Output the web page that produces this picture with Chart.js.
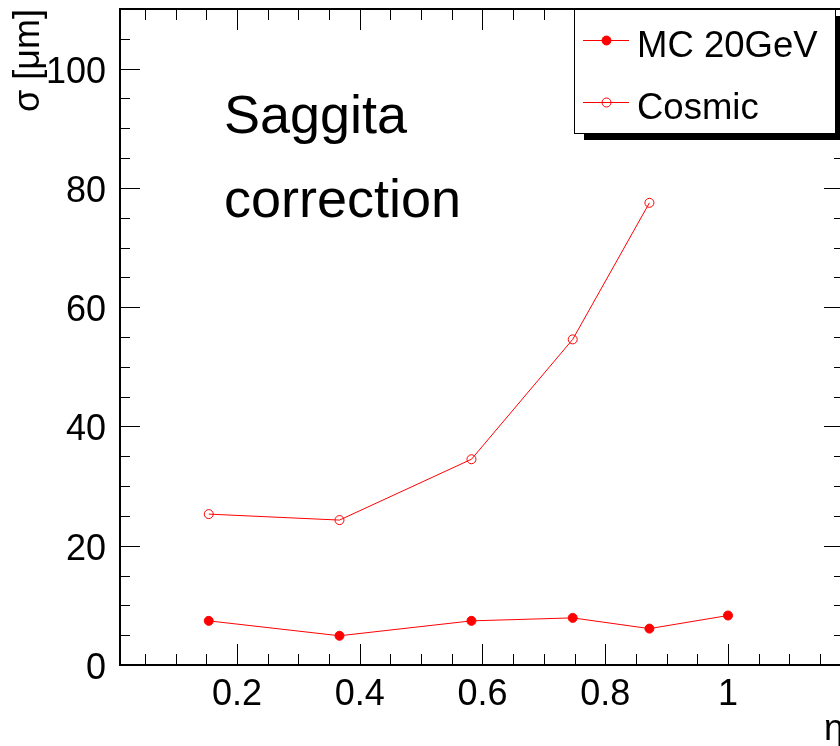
<!DOCTYPE html>
<html><head><meta charset="utf-8">
<script src="https://cdn.jsdelivr.net/npm/chart.js@4/dist/chart.umd.min.js"></script>
<style>html,body{margin:0;padding:0;background:#fff;overflow:hidden;width:840px;height:746px}canvas{display:block}</style>
</head><body>
<canvas id="c" width="860" height="746" style="width:860px;height:746px"></canvas>
<script>
// ---- data ----
const etaValues = [0.154, 0.367, 0.582, 0.747, 0.872, 1.0];
const mcValues = [7.4, 4.9, 7.4, 7.9, 6.1, 8.3];
const cosmicValues = [25.3, 24.3, 34.5, 54.6, 77.5];
const seriesLabels = ['MC 20GeV', 'Cosmic'];
const xTickLabels = ['0.2', '0.4', '0.6', '0.8', '1'];
const yTickLabels = ['0', '20', '40', '60', '80', '100'];
const xTitle = 'η';
const yTitle = 'σ [μm]';
const noteLines = ['Saggita', 'correction'];

const FONT = "'Liberation Sans', Arial, Helvetica, sans-serif";
const RED = '#ff0000';
const X_MIN = 0.0094, X_MAX = 1.189, Y_MIN = 0, Y_MAX = 110;
const X_MINOR = 0.05, Y_MINOR = 5;

const xMajor = xTickLabels.map(Number);
const yMajor = yTickLabels.map(Number);
function stepTicks(min, max, step) {
  const out = [];
  for (let k = Math.ceil(min / step - 1e-9); k * step <= max + 1e-9; k++) out.push(+(k * step).toFixed(6));
  return out;
}
const xTickValues = stepTicks(X_MIN, X_MAX, X_MINOR);
const yTickValues = stepTicks(Y_MIN, Y_MAX - 1e-6, Y_MINOR);
const isMajor = (v, majors) => majors.some(m => Math.abs(m - v) < 1e-6);

const rootPlugin = {
  id: 'rootStyle',
  afterDraw(chart) {
    const ctx = chart.ctx;
    const a = chart.chartArea;
    const xs = chart.scales.x, ys = chart.scales.y;
    ctx.save();
    // ticks (inside, on all four sides)
    ctx.strokeStyle = '#000';
    ctx.lineWidth = 1;
    ctx.beginPath();
    xTickValues.forEach(v => {
      const p = Math.round(xs.getPixelForValue(v)) + 0.5;
      const len = isMajor(v, xMajor) ? 21 : 11;
      ctx.moveTo(p, a.bottom); ctx.lineTo(p, a.bottom - len);
      ctx.moveTo(p, a.top); ctx.lineTo(p, a.top + len);
    });
    yTickValues.forEach(v => {
      const p = Math.round(ys.getPixelForValue(v)) + 0.5;
      const len = isMajor(v, yMajor) ? 20 : 10;
      ctx.moveTo(a.left, p); ctx.lineTo(a.left + len, p);
      ctx.moveTo(a.right, p); ctx.lineTo(a.right - len, p);
    });
    ctx.stroke();
    // frame
    ctx.lineWidth = 2;
    ctx.strokeRect(a.left, a.top, a.right - a.left, a.bottom - a.top);

    // legend with shadow
    const lx = 574, ly = 9, lw = 261, lh = 124;
    ctx.fillStyle = '#000';
    ctx.fillRect(lx + 10, ly + 7, lw - 3, lh);
    ctx.fillStyle = '#fff';
    ctx.fillRect(lx, ly, lw, lh);
    ctx.lineWidth = 1;
    ctx.strokeStyle = '#000';
    ctx.strokeRect(lx + 0.5, ly + 0.5, lw, lh);
    const rows = [{my: 40, base: 57}, {my: 102, base: 119}];
    chart.data.datasets.forEach((ds, i) => {
      const r = rows[i];
      ctx.strokeStyle = ds.borderColor;
      ctx.lineWidth = 1;
      ctx.beginPath();
      ctx.moveTo(583, r.my + 0.5); ctx.lineTo(629, r.my + 0.5);
      ctx.stroke();
      ctx.beginPath();
      ctx.arc(606.5, r.my + 0.5, ds.pointRadius, 0, Math.PI * 2);
      ctx.fillStyle = ds.pointBackgroundColor;
      ctx.fill();
      ctx.stroke();
      ctx.fillStyle = '#000';
      ctx.font = '36.5px ' + FONT;
      ctx.textAlign = 'left';
      ctx.textBaseline = 'alphabetic';
      ctx.fillText(ds.label, 637, r.base);
    });

    // annotation text
    ctx.font = '54px ' + FONT;
    ctx.fillStyle = '#000';
    ctx.fillText(noteLines[0], 224, 133);
    ctx.fillText(noteLines[1], 224, 217);
    ctx.restore();
  }
};

const chart = new Chart(document.getElementById('c'), {
  type: 'scatter',
  data: {
    datasets: [
      {
        label: seriesLabels[0],
        data: etaValues.map((x, i) => ({x, y: mcValues[i]})),
        showLine: true, borderColor: RED, borderWidth: 1,
        pointRadius: 4.5, pointBorderWidth: 1,
        pointBackgroundColor: RED, pointBorderColor: RED, tension: 0
      },
      {
        label: seriesLabels[1],
        data: cosmicValues.map((y, i) => ({x: etaValues[i], y})),
        showLine: true, borderColor: RED, borderWidth: 1,
        pointRadius: 4.5, pointBorderWidth: 1,
        pointBackgroundColor: 'rgba(255,255,255,0)', pointBorderColor: RED, tension: 0
      }
    ]
  },
  options: {
    responsive: false, animation: false, devicePixelRatio: 1,
    layout: {padding: {left: 0, top: 9, right: 16, bottom: 0}},
    plugins: {legend: {display: false}, tooltip: {enabled: false}},
    scales: {
      x: {
        type: 'linear', min: X_MIN, max: X_MAX,
        grid: {display: false}, border: {display: false},
        afterBuildTicks: s => { s.ticks = xTickValues.map(v => ({value: v})); },
        afterFit: s => { s.height = 81; s.paddingLeft = 0; s.paddingRight = 0; s.paddingTop = 0; s.paddingBottom = 0; },
        ticks: {
          autoSkip: false, maxRotation: 0, padding: 0, color: '#000',
          font: {family: FONT, size: 36, lineHeight: 1.2},
          callback: v => { const i = xMajor.findIndex(m => Math.abs(m - v) < 1e-6); return i >= 0 ? xTickLabels[i] : ''; }
        },
        title: {display: true, text: xTitle, align: 'end', color: '#000', padding: {top: 0, bottom: -6},
          font: {family: FONT, size: 36, lineHeight: 1.2}}
      },
      y: {
        type: 'linear', min: Y_MIN, max: Y_MAX,
        grid: {display: false}, border: {display: false},
        afterBuildTicks: s => { s.ticks = yTickValues.map(v => ({value: v})); },
        afterFit: s => { s.width = 120; s.paddingLeft = 0; s.paddingRight = 0; s.paddingTop = 0; s.paddingBottom = 0; },
        ticks: {
          autoSkip: false, padding: 6, color: '#000', labelOffset: 4,
          font: {family: FONT, size: 36, lineHeight: 1.2},
          callback: v => { const i = yMajor.findIndex(m => Math.abs(m - v) < 1e-6); return i >= 0 ? yTickLabels[i] : ''; }
        },
        title: {display: true, text: yTitle, align: 'end', color: '#000', padding: {top: 7, bottom: 0},
          font: {family: FONT, size: 36, lineHeight: 1.2}}
      }
    }
  },
  plugins: [rootPlugin]
});
</script>
</body></html>
